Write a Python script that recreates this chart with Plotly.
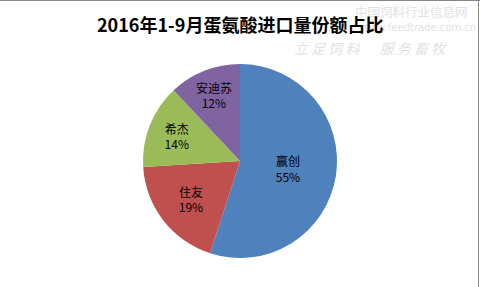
import plotly.graph_objects as go

labels = ["赢创", "住友", "希杰", "安迪苏"]
values = [55, 19, 14, 12]
colors = ["#4F81BD", "#C0504D", "#9BBB59", "#8064A2"]
title_text = "2016年1-9月蛋氨酸进口量份额占比"

W, H = 480, 287

fig = go.Figure(go.Pie(
    labels=labels,
    values=values,
    sort=False,
    direction="clockwise",
    rotation=0,
    marker=dict(colors=colors, line=dict(width=0)),
    texttemplate="%{label}<br>%{percent:.0%}",
    textposition="inside",
    insidetextorientation="horizontal",
    textfont=dict(family="Noto Sans CJK SC", size=12, color="#000000"),
    hoverinfo="label+percent",
    showlegend=False,
    domain=dict(x=[143 / W, 337 / W], y=[(H - 258) / H, (H - 64) / H]),
))

annotations = [
    dict(text="中国饲料行业信息网", x=411 / W, y=1 - 12 / H, xref="paper", yref="paper",
         showarrow=False, font=dict(family="Noto Sans CJK SC", size=12.5, color="#E2E2E2"),
         xanchor="center", yanchor="middle"),
    dict(text="www.feedtrade.com.cn", x=418 / W, y=1 - 28 / H, xref="paper", yref="paper",
         showarrow=False, font=dict(family="DejaVu Sans", size=10, color="#E2E2E2"),
         xanchor="center", yanchor="middle"),
    dict(text="<i>立 足 饲 料 　 服 务 畜 牧</i>", x=370 / W, y=1 - 48 / H, xref="paper", yref="paper",
         showarrow=False, font=dict(family="Noto Sans CJK SC", size=14, color="#E2E2E2"),
         xanchor="center", yanchor="middle"),
    dict(text="<b>" + title_text + "</b>", x=240 / W, y=1 - 24 / H, xref="paper", yref="paper",
         showarrow=False, font=dict(family="Noto Sans CJK SC", size=18, color="#000000"),
         xanchor="center", yanchor="middle"),
]

shapes = [
    dict(type="line", xref="paper", yref="paper", x0=0, x1=1, y0=1 - 0.5 / H, y1=1 - 0.5 / H,
         line=dict(color="#868686", width=1)),
    dict(type="line", xref="paper", yref="paper", x0=1 - 1.5 / W, x1=1 - 1.5 / W, y0=0, y1=1,
         line=dict(color="#868686", width=1)),
]

fig.update_layout(
    width=W, height=H,
    margin=dict(l=0, r=0, t=0, b=0),
    paper_bgcolor="#FFFFFF",
    plot_bgcolor="#FFFFFF",
    annotations=annotations,
    shapes=shapes,
)

fig.write_html("out.html")
